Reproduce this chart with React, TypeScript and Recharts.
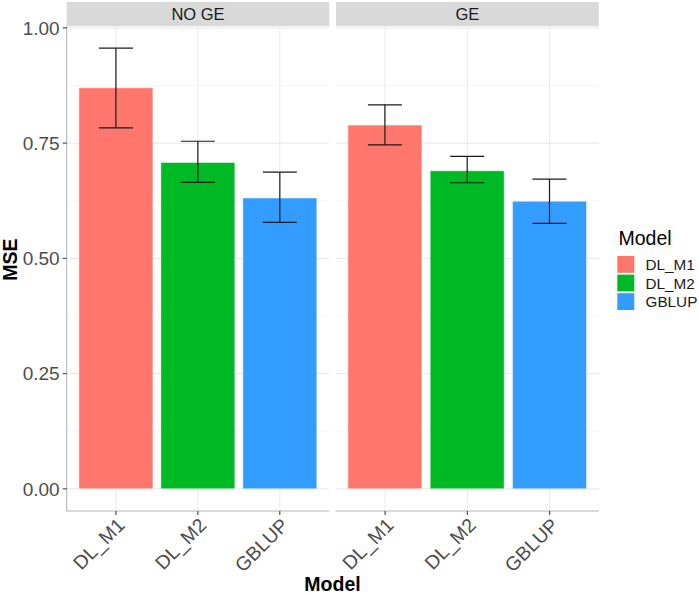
import React from 'react';
import { BarChart, Bar, XAxis, YAxis, CartesianGrid, ErrorBar, Cell, ReferenceLine } from 'recharts';

const categories = ['DL_M1', 'DL_M2', 'GBLUP'];
const panels = ['NO GE', 'GE'];

const noGeMse = [0.870, 0.708, 0.631];
const noGeLow = [0.783, 0.665, 0.578];
const noGeHigh = [0.956, 0.754, 0.687];

const geMse = [0.789, 0.690, 0.624];
const geLow = [0.746, 0.664, 0.576];
const geHigh = [0.833, 0.721, 0.672];

const yTicks = [0, 0.25, 0.5, 0.75, 1];
const yMinor = [0.125, 0.375, 0.625, 0.875];

const COLORS = ['#FF766D', '#00BA25', '#339DFF'];
const FONT = '"Liberation Sans", Arial, Helvetica, sans-serif';
const DOMAIN: [number, number] = [-0.048, 1.004];

const build = (mse: number[], low: number[], high: number[]) =>
  categories.map((m, i) => ({
    model: m,
    mse: mse[i],
    err: [mse[i] - low[i], high[i] - mse[i]],
  }));

const noGeData = build(noGeMse, noGeLow, noGeHigh);
const geData = build(geMse, geLow, geHigh);

const XTick = (props: any) => {
  const { x, y, payload } = props;
  return (
    <g transform={`translate(${x},${y - 0.5})`}>
      <text
        transform="rotate(-45)"
        textAnchor="end"
        dy="0.72em"
        fontSize={19.5}
        fill="#4D4D4D"
        fontFamily={FONT}
      >
        {payload.value}
      </text>
    </g>
  );
};

const Panel = ({ data, showY, width, marginLeft, marginRight }: any) => (
  <BarChart
    width={width}
    height={594}
    data={data}
    margin={{ top: 26, right: marginRight, bottom: 0, left: marginLeft }}
  >
    <CartesianGrid vertical={false} stroke="#EBEBEB" strokeWidth={1.1} />
    {yMinor.map((v) => (
      <ReferenceLine key={'m' + v} y={v} stroke="#F2F2F2" strokeWidth={0.7} zIndex={-100} />
    ))}
    {categories.map((c) => (
      <ReferenceLine key={'v' + c} x={c} stroke="#EBEBEB" strokeWidth={1.1} zIndex={-100} />
    ))}
    <XAxis
      dataKey="model"
      height={83}
      padding={{ left: 8.2, right: 8.2 }}
      tick={<XTick />}
      tickSize={4}
      tickMargin={2}
      tickLine={{ stroke: '#333333', strokeWidth: 1 }}
      axisLine={{ stroke: '#BDBDBD', strokeWidth: 1.2 }}
      interval={0}
    />
    {showY ? (
      <YAxis
        width={66.7}
        domain={DOMAIN}
        allowDataOverflow
        ticks={yTicks}
        tickFormatter={(v: number) => v.toFixed(2)}
        tick={{ fontSize: 19, fill: '#4D4D4D', fontFamily: FONT }}
        tickSize={4}
        tickMargin={3}
        tickLine={{ stroke: '#333333', strokeWidth: 1 }}
        axisLine={{ stroke: '#BDBDBD', strokeWidth: 1.2 }}
      />
    ) : (
      <YAxis hide domain={DOMAIN} allowDataOverflow ticks={yTicks} />
    )}
    <Bar dataKey="mse" barSize={74} isAnimationActive={false} stroke="#FFFFFF" strokeWidth={0.5}>
      {data.map((d: any, i: number) => (
        <Cell key={d.model} fill={COLORS[i]} />
      ))}
      <ErrorBar dataKey="err" width={17} stroke="#1A1A1A" strokeWidth={1.2} isAnimationActive={false} />
    </Bar>
  </BarChart>
);

export default function App() {
  return (
    <div style={{ position: 'absolute', left: 0, top: 0, width: 699, height: 594, background: '#FFFFFF', fontFamily: FONT }}>
      <div style={{ position: 'absolute', left: 0, top: 0 }}>
        <Panel data={noGeData} showY width={335} marginLeft={0} marginRight={6} />
      </div>
      <div style={{ position: 'absolute', left: 330, top: 0 }}>
        <Panel data={geData} showY={false} width={280} marginLeft={5.7} marginRight={11} />
      </div>
      <svg width={699} height={594} style={{ position: 'absolute', left: 0, top: 0, pointerEvents: 'none' }}>
        <rect x={66.7} y={2} width={262.6} height={24} fill="#D9D9D9" />
        <rect x={336} y={2} width={262.7} height={24} fill="#D9D9D9" />
        <text x={198} y={20} textAnchor="middle" fontSize={16.5} fill="#1A1A1A" fontFamily={FONT}>{panels[0]}</text>
        <text x={467.3} y={20} textAnchor="middle" fontSize={16.5} fill="#1A1A1A" fontFamily={FONT}>{panels[1]}</text>
        <text x={332.5} y={591} textAnchor="middle" fontSize={19.5} fontWeight="bold" fill="#000000" fontFamily={FONT}>Model</text>
        <text transform="translate(16.5,259.5) rotate(-90)" textAnchor="middle" fontSize={19.5} fontWeight="bold" fill="#000000" fontFamily={FONT}>MSE</text>
        <text x={618.5} y={245} fontSize={19.5} fill="#000000" fontFamily={FONT}>Model</text>
        {categories.map((c, i) => (
          <g key={c}>
            <rect x={617.3} y={256 + i * 18.6} width={17} height={16.8} fill={COLORS[i]} />
            <text x={645.5} y={270 + i * 18.6} fontSize={15.3} fill="#1A1A1A" fontFamily={FONT}>{c}</text>
          </g>
        ))}
      </svg>
    </div>
  );
}
